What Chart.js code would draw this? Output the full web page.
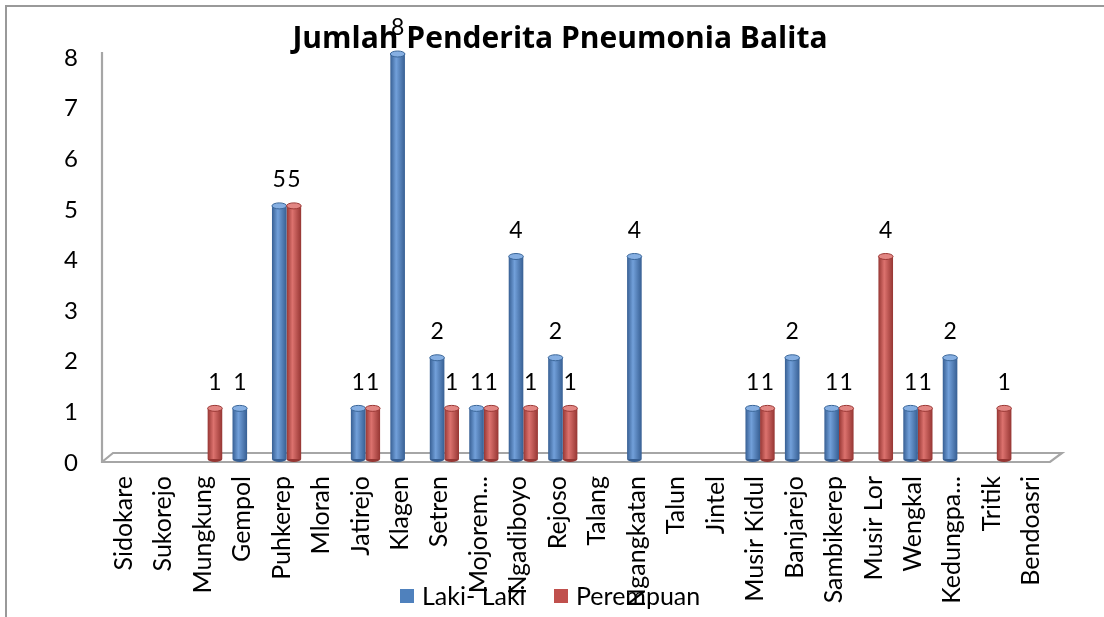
<!DOCTYPE html>
<html><head><meta charset="utf-8">
<script src="https://cdn.jsdelivr.net/npm/chart.js@4.4.1/dist/chart.umd.min.js"></script>
<style>html,body{margin:0;padding:0;background:#fff;}#wrap{width:1104px;height:617px;position:relative;}</style>
</head><body><div id="wrap"><canvas id="c" width="1104" height="617"></canvas></div>
<script>
const categories = ['Sidokare','Sukorejo','Mungkung','Gempol','Puhkerep','Mlorah','Jatirejo','Klagen','Setren','Mojorem...','Ngadiboyo','Rejoso','Talang','Ngangkatan','Talun','Jintel','Musir Kidul','Banjarejo','Sambikerep','Musir Lor','Wengkal','Kedungpa...','Tritik','Bendoasri'];
const lakiLaki  = [0,0,0,1,5,0,1,8,2,1,4,2,0,4,0,0,1,2,1,0,1,2,0,0];
const perempuan = [0,0,1,0,5,0,1,0,1,1,1,1,0,0,0,0,1,0,1,4,1,0,1,0];
const yTicks = [0,1,2,3,4,5,6,7,8];
const seriesNames = ['Laki- Laki','Perempuan'];
const chartTitle = 'Jumlah Penderita Pneumonia Balita';

const FONT = 'Lato';
const TITLE_FONT = 'Open Sans';
const CAT_PCT = 0.74;
const palette = [
  {base:'#4f81bd', dark:'#375f93', light:'#72a0da', cap:'#86afe2', edge:'#3a6699'},
  {base:'#c0504d', dark:'#963633', light:'#dc726e', cap:'#e28683', edge:'#9b3835'}
];

function cylFill(p, side){
  return (ctx) => {
    const chart = ctx.chart; const xs = chart.scales && chart.scales.x; const ca = chart.chartArea;
    if (!xs || !ca || ctx.type !== 'data') return p.base;
    const cw = (ca.right - ca.left) / categories.length;
    const bw = cw * CAT_PCT / 2;
    const cx = xs.getPixelForValue(ctx.dataIndex) + side * bw / 2;
    if (!isFinite(cx)) return p.base;
    const g = chart.ctx.createLinearGradient(cx - bw/2, 0, cx + bw/2, 0);
    g.addColorStop(0, p.dark); g.addColorStop(0.4, p.light); g.addColorStop(1, p.dark);
    return g;
  };
}

const decor = {
  id: 'decor',
  beforeDraw(chart){
    const c = chart.ctx;
    c.save();
    c.strokeStyle = '#999'; c.lineWidth = 2;
    c.beginPath(); c.moveTo(6, 617); c.lineTo(6, 6); c.lineTo(1104, 6); c.stroke();
    c.restore();
  },
  beforeDatasetsDraw(chart){
    const c = chart.ctx, ca = chart.chartArea, y0 = chart.scales.y.getPixelForValue(0);
    c.save();
    c.strokeStyle = '#a6a6a6'; c.lineWidth = 2.2;
    const fl = ca.left - 7, fr = ca.right - 6, bl = ca.left + 4, br = ca.right + 6;
    const fy = y0 + 3, by = y0 - 6;
    c.beginPath();
    c.moveTo(fl, ca.top - 2); c.lineTo(fl, fy); c.lineTo(fr, fy); c.lineTo(br, by); c.lineTo(bl, by); c.lineTo(fl, fy);
    c.stroke();
    c.restore();
  },
  afterDatasetsDraw(chart){
    const c = chart.ctx;
    chart.data.datasets.forEach((ds, di) => {
      const p = palette[di];
      chart.getDatasetMeta(di).data.forEach((el, i) => {
        if (!ds.data[i]) return;
        const rx = el.width / 2;
        c.save();
        c.fillStyle = p.dark;
        c.beginPath(); c.ellipse(el.x, el.base, rx, 3, 0, 0, Math.PI); c.fill();
        c.fillStyle = p.cap; c.strokeStyle = p.edge; c.lineWidth = 1;
        c.beginPath(); c.ellipse(el.x, el.y, rx, 3, 0, 0, Math.PI * 2); c.fill(); c.stroke();
        c.restore();
      });
    });
  },
  afterDraw(chart){
    const c = chart.ctx;
    c.save();
    c.fillStyle = '#000'; c.font = '23px ' + FONT; c.textAlign = 'center'; c.textBaseline = 'middle';
    chart.data.datasets.forEach((ds, di) => {
      chart.getDatasetMeta(di).data.forEach((el, i) => {
        if (!ds.data[i]) return;
        c.fillText(String(ds.data[i]), el.x, el.y - 26);
      });
    });
    c.font = '25px ' + FONT; c.textAlign = 'left';
    const items = [{x:400, name:seriesNames[0], col:palette[0].base},{x:554, name:seriesNames[1], col:palette[1].base}];
    items.forEach(it => {
      c.fillStyle = it.col; c.fillRect(it.x, 589, 14, 14);
      c.fillStyle = '#000'; c.fillText(it.name, it.x + 22, 597);
    });
    c.restore();
  }
};

new Chart(document.getElementById('c'), {
  type: 'bar',
  data: {
    labels: categories,
    datasets: [
      {label: seriesNames[0], data: lakiLaki, backgroundColor: cylFill(palette[0], -1), borderWidth: 0},
      {label: seriesNames[1], data: perempuan, backgroundColor: cylFill(palette[1], 1), borderWidth: 0}
    ]
  },
  options: {
    responsive: false, animation: false, devicePixelRatio: 1,
    categoryPercentage: CAT_PCT, barPercentage: 1,
    layout: {padding: {left: 64, right: 48, top: 0, bottom: 0}},
    plugins: {
      legend: {display: false},
      tooltip: {enabled: false},
      title: {display: true, text: chartTitle, color: '#000',
        font: {family: TITLE_FONT, size: 30, weight: 'bold', lineHeight: 1},
        padding: {top: 24, bottom: 0}}
    },
    scales: {
      x: {
        grid: {display: false, drawTicks: false}, border: {display: false},
        ticks: {color: '#000', font: {family: FONT, size: 25}, minRotation: 90, maxRotation: 90, autoSkip: false, padding: 17, labelOffset: -5},
        afterFit: (s) => { s.height = 617 - 459; }
      },
      y: {
        min: 0, max: 8,
        grid: {display: false, drawTicks: false}, border: {display: false},
        afterBuildTicks: (s) => { s.ticks = yTicks.map(v => ({value: v})); },
        ticks: {color: '#000', font: {family: FONT, size: 24}, padding: 31, labelOffset: 4},
        afterFit: (s) => { s.width = 45; }
      }
    }
  },
  plugins: [decor]
});
</script></body></html>
